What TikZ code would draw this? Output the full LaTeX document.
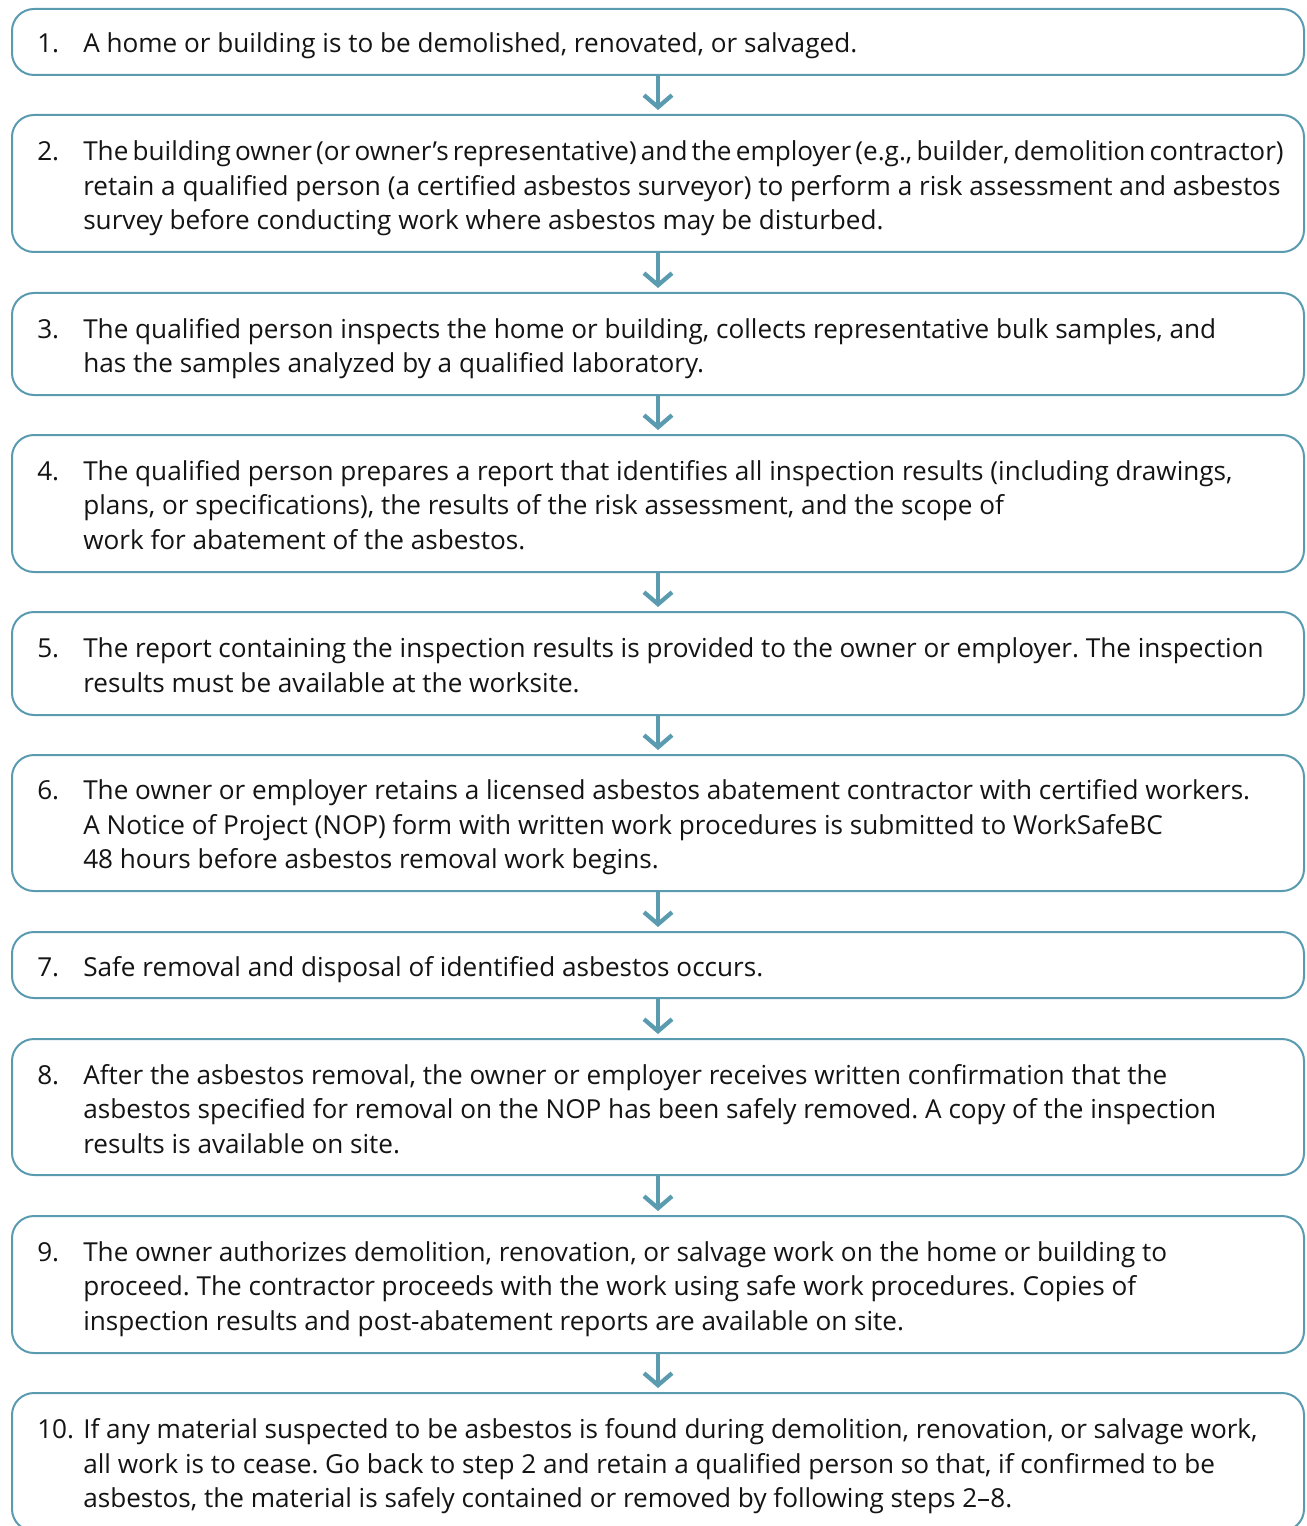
\documentclass[tikz,border=0pt]{standalone}
\usepackage{fontspec}
\setmainfont{Open Sans}
\usetikzlibrary{arrows.meta}
\definecolor{flowteal}{RGB}{90,155,176}
\definecolor{flowtext}{RGB}{20,20,20}
\newcommand{\stepfont}{\fontsize{19.6pt}{25.9pt}\selectfont\frenchspacing}
\newcommand{\steptext}[2]{\begin{tabular}{@{}p{34.5pt}@{}l@{}}#1&#2\end{tabular}}
\newcommand{\tightline}[1]{{\spaceskip=0.16em\relax #1}}
\begin{document}
\begin{tikzpicture}[x=0.75pt,y=-0.75pt,
  stepbox/.style={draw=flowteal,line width=1.5pt,rounded corners=16.5pt,minimum width=969pt,inner sep=0pt},
  steplabel/.style={anchor=west,inner sep=0pt,text=flowtext,font=\stepfont},
  flowarrow/.style={draw=flowteal,line width=3.2pt,-{Straight Barb[length=9pt,width=21pt,line cap=butt,line join=miter]},shorten >=3pt}]
\useasboundingbox (0,0) rectangle (1306,1526);
\fill[white] (0,0) rectangle (1306,1526);
\node[stepbox,minimum height=49.5pt] (b1) at (658,42) {};
\node[stepbox,minimum height=102.75pt] (b2) at (658,183.5) {};
\node[stepbox,minimum height=76.5pt] (b3) at (658,344) {};
\node[stepbox,minimum height=102.75pt] (b4) at (658,503.5) {};
\node[stepbox,minimum height=77.25pt] (b5) at (658,663.5) {};
\node[stepbox,minimum height=102pt] (b6) at (658,823) {};
\node[stepbox,minimum height=49.5pt] (b7) at (658,965) {};
\node[stepbox,minimum height=102pt] (b8) at (658,1107) {};
\node[stepbox,minimum height=102.75pt] (b9) at (658,1284.5) {};
\node[stepbox,minimum height=103.5pt] (b10) at (658,1462) {};
\node[steplabel] (t1) at (37,46) {\steptext{1.}{A home or building is to be demolished, renovated, or salvaged.}};
\node[steplabel] (t2) at (37,188.5) {\steptext{2.}{\tightline{The building owner (or owner’s representative) and the employer (e.g., builder, demolition contractor)}\\
 &retain a qualified person (a certified asbestos surveyor) to perform a risk assessment and asbestos\\
 &survey before conducting work where asbestos may be disturbed.}};
\node[steplabel] (t3) at (37,348.5) {\steptext{3.}{The qualified person inspects the home or building, collects representative bulk samples, and\\
 &has the samples analyzed by a qualified laboratory.}};
\node[steplabel] (t4) at (37,508) {\steptext{4.}{The qualified person prepares a report that identifies all inspection results (including drawings,\\
 &plans, or specifications), the results of the risk assessment, and the scope of\\
 &work for abatement of the asbestos.}};
\node[steplabel] (t5) at (37,668) {\steptext{5.}{The report containing the inspection results is provided to the owner or employer. The inspection\\
 &results must be available at the worksite.}};
\node[steplabel] (t6) at (37,827.5) {\steptext{6.}{The owner or employer retains a licensed asbestos abatement contractor with certified workers.\\
 &A Notice of Project (NOP) form with written work procedures is submitted to WorkSafeBC\\
 &48 hours before asbestos removal work begins.}};
\node[steplabel] (t7) at (37,969.5) {\steptext{7.}{Safe removal and disposal of identified asbestos occurs.}};
\node[steplabel] (t8) at (37,1112) {\steptext{8.}{After the asbestos removal, the owner or employer receives written confirmation that the\\
 &asbestos specified for removal on the NOP has been safely removed. A copy of the inspection\\
 &results is available on site.}};
\node[steplabel] (t9) at (37,1289) {\steptext{9.}{The owner authorizes demolition, renovation, or salvage work on the home or building to\\
 &proceed. The contractor proceeds with the work using safe work procedures. Copies of\\
 &inspection results and post-abatement reports are available on site.}};
\node[steplabel] (t10) at (37,1466.5) {\steptext{10.}{If any material suspected to be asbestos is found during demolition, renovation, or salvage work,\\
 &all work is to cease. Go back to step 2 and retain a qualified person so that, if confirmed to be\\
 &asbestos, the material is safely contained or removed by following steps 2–8.}};
\foreach \a/\b in {b1/b2,b2/b3,b3/b4,b4/b5,b5/b6,b6/b7,b7/b8,b8/b9,b9/b10}
  \draw[flowarrow] (\a.south) -- (\b.north);
\end{tikzpicture}
\end{document}
